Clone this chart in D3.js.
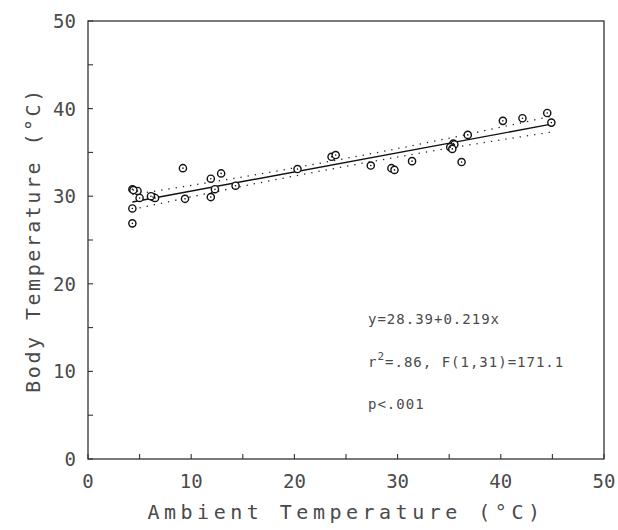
<!DOCTYPE html>
<html>
<head>
<meta charset="utf-8">
<script src="https://cdn.jsdelivr.net/npm/d3@7"></script>
<style>
  body { margin: 0; background: #fff; }
  text { font-family: "DejaVu Sans Mono", "Liberation Mono", monospace; fill: #4a4a4a; }
</style>
</head>
<body>
<div id="chart"></div>
<script>
// ambient temp (x) and body temp (y)
var ambient = [9.2, 12.9, 11.9, 4.3, 4.8, 12.3, 14.3, 20.3, 5.0, 6.3, 6.5, 6.1, 9.4, 11.9, 4.3, 4.3,
               23.6, 24.0, 27.4, 29.4, 29.7, 31.4, 35.4, 35.5, 35.1, 35.3, 36.8, 36.2, 40.2, 42.1, 44.5, 44.9, 4.4]
var body    = [33.2, 32.6, 32.0, 30.8, 30.6, 30.8, 31.2, 33.1, 29.8, 29.9, 29.8, 30.0, 29.7, 29.9, 28.6, 26.9,
               34.5, 34.7, 33.5, 33.2, 33.0, 34.0, 36.0, 35.9, 35.6, 35.4, 37.0, 33.9, 38.6, 38.9, 39.5, 38.4, 30.7]

// regression line
var intercept = 28.39
var slope = 0.219
var lineX = [4.3, 44.9]

// confidence band half widths at a few x positions
var bandX = [4.3, 14, 24, 34, 44.9]
var bandHalf = [0.85, 0.55, 0.45, 0.55, 0.9]

var xTicks = [0, 10, 20, 30, 40, 50]
var yTicks = [0, 10, 20, 30, 40, 50]
var minorTicks = [5, 15, 25, 35, 45]

var annot = ["y=28.39+0.219x", "r", "p<.001"]

var width = 618, height = 530
var svg = d3.select("#chart").append("svg")
    .attr("width", width)
    .attr("height", height)

var x = d3.scaleLinear().domain([0, 50]).range([88, 604])
var y = d3.scaleLinear().domain([0, 50]).range([459, 21])

// frame
svg.append("rect")
    .attr("x", x(0)).attr("y", y(50))
    .attr("width", x(50) - x(0)).attr("height", y(0) - y(50))
    .attr("fill", "none").attr("stroke", "#333").attr("stroke-width", 1.3)

// ticks, pointing inward
var allTicks = xTicks.concat(minorTicks)
svg.selectAll(".xt").data(allTicks).enter().append("line")
    .attr("x1", d => x(d)).attr("x2", d => x(d))
    .attr("y1", y(0)).attr("y2", y(0) - 5)
    .attr("stroke", "#333").attr("stroke-width", 1.1)
svg.selectAll(".yt").data(allTicks).enter().append("line")
    .attr("y1", d => y(d)).attr("y2", d => y(d))
    .attr("x1", x(0)).attr("x2", x(0) + 5)
    .attr("stroke", "#333").attr("stroke-width", 1.1)

svg.selectAll(".xl").data(xTicks).enter().append("text")
    .attr("x", d => x(d)).attr("y", 488)
    .attr("text-anchor", "middle")
    .attr("font-size", 19)
    .text(d => d)
svg.selectAll(".yl").data(yTicks).enter().append("text")
    .attr("x", 76).attr("y", d => y(d) + 7)
    .attr("text-anchor", "end")
    .attr("font-size", 19)
    .text(d => d)

svg.append("text")
    .attr("x", (x(0) + x(50)) / 2).attr("y", 519)
    .attr("text-anchor", "middle")
    .attr("font-size", 20)
    .attr("letter-spacing", 4.5)
    .text("Ambient Temperature (°C)")
svg.append("text")
    .attr("transform", "translate(40," + ((y(0) + y(50)) / 2) + ") rotate(-90)")
    .attr("text-anchor", "middle")
    .attr("font-size", 20)
    .attr("letter-spacing", 2.5)
    .text("Body Temperature (°C)")

// confidence band (dotted)
var bandData = bandX.map((d, i) => ({x: d, h: bandHalf[i]}))
var bandLine = sign => d3.line()
    .x(d => x(d.x))
    .y(d => y(intercept + slope * d.x + sign * d.h))
    .curve(d3.curveNatural)
;[1, -1].forEach(function(s){
    svg.append("path")
        .attr("d", bandLine(s)(bandData))
        .attr("fill", "none").attr("stroke", "#222")
        .attr("stroke-width", 1.3)
        .attr("stroke-dasharray", "1.3,6")
})

// regression line
svg.append("line")
    .attr("x1", x(lineX[0])).attr("y1", y(intercept + slope * lineX[0]))
    .attr("x2", x(lineX[1])).attr("y2", y(intercept + slope * lineX[1]))
    .attr("stroke", "#111").attr("stroke-width", 1.4)

// points
var pts = ambient.map((d, i) => ({x: d, y: body[i]}))
svg.selectAll(".pt").data(pts).enter().append("circle")
    .attr("cx", d => x(d.x)).attr("cy", d => y(d.y))
    .attr("r", 3.6)
    .attr("fill", "#fff").attr("stroke", "#111").attr("stroke-width", 1.4)
svg.selectAll(".dot").data(pts).enter().append("circle")
    .attr("cx", d => x(d.x)).attr("cy", d => y(d.y))
    .attr("r", 0.8).attr("fill", "#111")

// annotation
var ax = 368
svg.append("text").attr("x", ax).attr("y", 324)
    .attr("font-size", 14).attr("letter-spacing", 1)
    .text(annot[0])
var t2 = svg.append("text").attr("x", ax).attr("y", 367)
    .attr("font-size", 14).attr("letter-spacing", 1)
t2.append("tspan").text("r")
t2.append("tspan").attr("dy", -7).attr("font-size", 11).text("2")
t2.append("tspan").attr("dy", 7).text("=.86, F(1,31)=171.1")
svg.append("text").attr("x", ax).attr("y", 409)
    .attr("font-size", 14).attr("letter-spacing", 1)
    .text(annot[2])
</script>
</body>
</html>
